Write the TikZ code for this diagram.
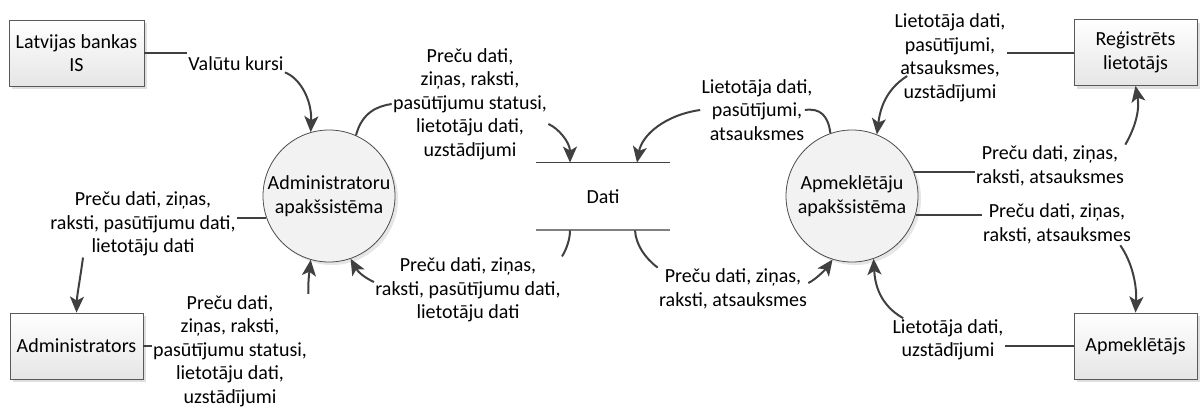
\documentclass[tikz,border=0pt]{standalone}
\usepackage{fontspec}
\setmainfont{Carlito}
\usetikzlibrary{arrows.meta,shadows}

\begin{document}
\begin{tikzpicture} [
            x=0.5pt, y=-0.5pt, font=\fontsize{10}{11.75}\selectfont,
            >={Stealth[length=8pt,width=7pt,inset=2pt]},
            ent/.style = {rectangle, minimum width=66.5pt, minimum height=33pt, align=center,
                          draw=gray!70!black, top color=white, bottom color=gray!20,
                          drop shadow={shadow xshift=1.5pt, shadow yshift=-1.5pt, opacity=.25}},
            proc/.style = {circle, minimum size=66pt, inner sep=0pt, align=center,
                           draw=black!70, fill=gray!10,
                           drop shadow={shadow xshift=1.5pt, shadow yshift=-1.5pt, opacity=.2}},
            store/.style = {rectangle, minimum width=67pt, minimum height=33.5pt},
            lbl/.style = {align=center, inner sep=0.5pt},
            flow/.style = {draw=black!75, line width=1pt}
        ]

        \useasboundingbox (0,0) rectangle (1200,407);

        % ārējās entītijas
        \node [ent] (lbis) at (76.5,53) {Latvijas bankas\\IS};
        \node [ent] (admb) at (76.5,346) {Administrators};
        \node [ent, minimum width=61.5pt] (rl) at (1135.5,52.5) {Reģistrēts\\lietotājs};
        \node [ent, minimum width=61.5pt] (ap) at (1135.5,346) {Apmeklētājs};

        % procesi
        \node [proc] (adm) at (329,196) {Administratoru\\apakšsistēma};
        \node [proc] (apm) at (852,196) {Apmeklētāju\\apakšsistēma};

        % datu krātuve
        \node [store] (dati) at (603,196.5) {Dati};
        \draw [gray!20, line width=0.8pt, yshift=-1.5pt] (dati.north west) -- (dati.north east);
        \draw [gray!20, line width=0.8pt, yshift=-1.5pt] (dati.south west) -- (dati.south east);
        \draw [black!75, line width=0.8pt] (dati.north west) -- (dati.north east);
        \draw [gray, line width=1pt] (dati.south west) -- (dati.south east);

        % plūsmu nosaukumi
        \node [lbl] (t1) at (236,64) {Valūtu kursi};
        \node [lbl] (t2) at (470,104) {Preču dati,\\ziņas, raksti,\\pasūtījumu statusi,\\lietotāju dati,\\uzstādījumi};
        \node [lbl] (t3) at (757,110) {Lietotāja dati,\\pasūtījumi,\\atsauksmes};
        \node [lbl] (t4) at (950,58) {Lietotāja dati,\\pasūtījumi,\\atsauksmes,\\uzstādījumi};
        \node [lbl] (t5) at (1050,166) {Preču dati, ziņas,\\raksti, atsauksmes};
        \node [lbl] (t6) at (1057,224) {Preču dati, ziņas,\\raksti, atsauksmes};
        \node [lbl] (t7) at (948,340) {Lietotāja dati,\\uzstādījumi};
        \node [lbl] (t8) at (733,289) {Preču dati, ziņas,\\raksti, atsauksmes};
        \node [lbl] (t9) at (468,290) {Preču dati, ziņas,\\raksti, pasūtījumu dati,\\lietotāju dati};
        \node [lbl] (t10) at (143,224) {Preču dati, ziņas,\\raksti, pasūtījumu dati,\\lietotāju dati};
        \node [lbl] (t11) at (230,351) {Preču dati,\\ziņas, raksti,\\pasūtījumu statusi,\\lietotāju dati,\\uzstādījumi};

        % Latvijas bankas IS -> administratori
        \draw [flow] (lbis.east) -- (lbis.east -| t1.west);
        \draw [flow,->] (t1.south east) .. controls (300,78) and (312,100) .. (adm.106);

        % administratori -> dati
        \draw [flow] (adm.66) .. controls (362,112) and (378,106) .. (t2.west);
        \draw [flow,->] ([yshift=-10pt]t2.east) .. controls (558,128) and (570,142) .. ([xshift=-16.5pt]dati.north);

        % apmeklētāji -> dati
        \draw [flow] (apm.109) .. controls (828,115) and (820,108) .. ([xshift=-4.5pt]t3.east);
        \draw [flow,->] (t3.west) .. controls (665,115) and (642,135) .. ([xshift=17pt]dati.north);

        % reģistrēts lietotājs -> apmeklētāji
        \draw [flow] (rl.west) -- (rl.west -| t4.east);
        \draw [flow,->] ([xshift=7pt,yshift=-9pt]t4.west) .. controls (885,90) and (880,110) .. (apm.68);

        % apmeklētāji -> reģistrēts lietotājs
        \draw [flow] (apm.21) -- (apm.21 -| t5.west);
        \draw [flow,->] (t5.north east) .. controls (1135,128) and (1140,110) .. (rl.south);

        % apmeklētāji -> apmeklētājs
        \draw [flow] (apm.-17) -- (apm.-17 -| t6.west);
        \draw [flow,->] ([xshift=-6pt]t6.south east) .. controls (1132,262) and (1137,285) .. (ap.north);

        % apmeklētājs -> apmeklētāji
        \draw [flow] (ap.west) -- (ap.west -| t7.east);
        \draw [flow,->] ([xshift=6pt]t7.north west) .. controls (880,305) and (875,285) .. (apm.-71);

        % dati -> apmeklētāji
        \draw [flow] ([xshift=16pt]dati.south) .. controls (636,245) and (645,258) .. (t8.north west);
        \draw [flow,->] ([yshift=3pt]t8.east) .. controls (815,280) and (825,270) .. (apm.-107);

        % dati -> administratori
        \draw [flow] ([xshift=-16.5pt]dati.south) .. controls (570,240) and (566,250) .. (t9.north east);
        \draw [flow,->] ([yshift=4pt]t9.west) .. controls (365,278) and (358,272) .. (adm.-71);

        % administratori -> administrators
        \draw [flow] (adm.-161) -- (adm.-161 -| t10.east);
        \draw [flow,->] ([xshift=-30pt]t10.south) .. controls (80,280) and (77,295) .. (admb.north);

        % administrators -> administratori
        \draw [flow] (admb.east) -- (admb.east -| t11.west);
        \draw [flow,->] (t11.north east) .. controls (308,283) and (309,275) .. (adm.-106);

    \end{tikzpicture}
\end{document}
